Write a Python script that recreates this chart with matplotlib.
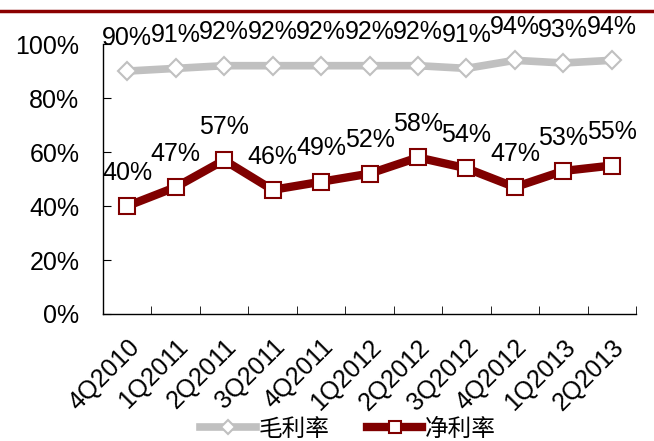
import matplotlib.pyplot as plt
from matplotlib.lines import Line2D

plt.rcParams['font.family'] = ['Liberation Sans', 'Noto Sans CJK SC', 'DejaVu Sans']

quarters = ['4Q2010', '1Q2011', '2Q2011', '3Q2011', '4Q2011', '1Q2012',
            '2Q2012', '3Q2012', '4Q2012', '1Q2013', '2Q2013']
gross = [90, 91, 92, 92, 92, 92, 92, 91, 94, 93, 94]
net = [40, 47, 57, 46, 49, 52, 58, 54, 47, 53, 55]
gross_label = '毛利率'
net_label = '净利率'
title = '图表：公司季度毛利率与净利率走势'

GRAY = '#C0C0C0'
RED = '#800000'

fig = plt.figure(figsize=(6.54, 4.41), dpi=100)
ax = fig.add_axes([0.1575, 0.288, 0.815, 0.612])

x = list(range(len(quarters)))
ax.plot(x, [v / 100 for v in gross], color=GRAY, lw=5.5, marker='D',
        ms=9.5, mfc='white', mec=GRAY, mew=1.5, label=gross_label, zorder=3)
ax.plot(x, [v / 100 for v in net], color=RED, lw=6, marker='s',
        ms=11.5, mfc='white', mec=RED, mew=1.5, label=net_label, zorder=3)

for i in x:
    ax.annotate('%d%%' % gross[i], (i, gross[i] / 100), xytext=(0, 24),
                textcoords='offset points', ha='center', va='center',
                fontsize=18, annotation_clip=False)
    ax.annotate('%d%%' % net[i], (i, net[i] / 100), xytext=(0, 24),
                textcoords='offset points', ha='center', va='center',
                fontsize=18, annotation_clip=False)

ax.set_xlim(-0.5, len(quarters) - 0.5)
ax.set_ylim(0, 1)
ax.set_yticks([0, 0.2, 0.4, 0.6, 0.8, 1.0])
ax.set_yticklabels(['0%', '20%', '40%', '60%', '80%', '100%'], fontsize=18)
ax.tick_params(axis='y', direction='in', length=6, pad=17)

ax.set_xticks(x)
ax.set_xticklabels(quarters, fontsize=18, rotation=45, ha='right',
                   rotation_mode='anchor')
ax.tick_params(axis='x', which='major', length=0, pad=15)
ax.set_xticks([i + 0.5 for i in x], minor=True)
ax.tick_params(axis='x', which='minor', direction='in', length=6)

for s in ['top', 'right']:
    ax.spines[s].set_visible(False)
for s in ['left', 'bottom']:
    ax.spines[s].set_linewidth(1)
    ax.spines[s].set_color('black')

leg = fig.legend(loc='center', bbox_to_anchor=(348 / 654, 12 / 441), ncol=2,
                 frameon=False, handlelength=2.35, columnspacing=1.6,
                 handletextpad=0.1, markerscale=0.8, borderpad=0.2,
                 prop={'family': ['Noto Sans CJK SC'], 'size': 17})

# header strip: cut-off report title and rule
fig.text(0.0, 1.0 - 3 / 441, title, color=RED, fontsize=20, va='bottom',
         family=['Noto Sans CJK SC'])
fig.add_artist(Line2D([0, 1], [1 - 11 / 441, 1 - 11 / 441], color='#8B0000',
                      lw=2.5, transform=fig.transFigure))

fig.savefig('out.png', dpi=100)
